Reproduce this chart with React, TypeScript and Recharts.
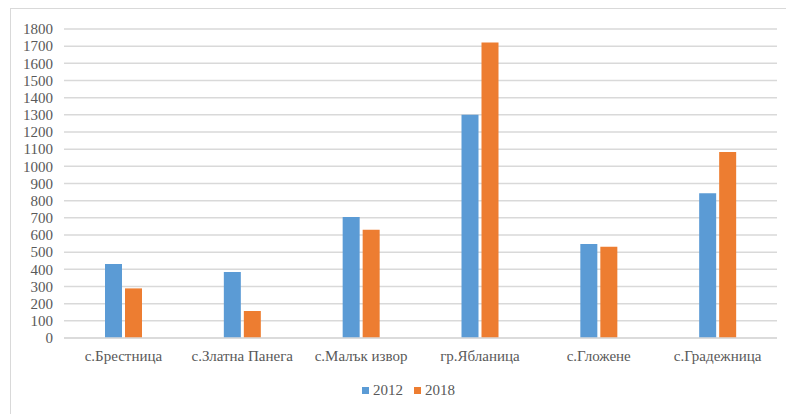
import React from "react";
import {
  BarChart,
  Bar,
  XAxis,
  YAxis,
  CartesianGrid,
  Legend,
} from "recharts";

const villages = [
  "с.Брестница",
  "с.Златна Панега",
  "с.Малък извор",
  "гр.Ябланица",
  "с.Гложене",
  "с.Градежница",
];
const values2012 = [431, 384, 705, 1300, 547, 843];
const values2018 = [289, 157, 630, 1722, 532, 1083];
const yTicks = [
  0, 100, 200, 300, 400, 500, 600, 700, 800, 900, 1000, 1100, 1200, 1300,
  1400, 1500, 1600, 1700, 1800,
];

const data = villages.map((name, i) => ({
  name,
  y2012: values2012[i],
  y2018: values2018[i],
}));

const FONT = "'Liberation Serif', 'Times New Roman', serif";
const TEXT = "#595959";
const tickStyle = { fill: TEXT, fontSize: 15, fontFamily: FONT };

// legend drawn as plain markup so the gaps between items can be set freely
const renderLegend = (props: any) => (
  <div
    style={{
      display: "flex",
      justifyContent: "center",
      gap: 11,
      paddingLeft: 40,
      paddingTop: 4,
      fontFamily: FONT,
      fontSize: 15,
      color: TEXT,
    }}
  >
    {props.payload.map((item: any) => (
      <span
        key={item.value}
        style={{ display: "flex", alignItems: "center", gap: 4 }}
      >
        <span
          style={{
            width: 7,
            height: 7,
            background: item.color,
            display: "inline-block",
          }}
        />
        {item.value}
      </span>
    ))}
  </div>
);

export default function App() {
  return (
    <div
      style={{
        position: "absolute",
        left: 0,
        top: 0,
        width: 786,
        height: 414,
        background: "#fff",
        overflow: "hidden",
        fontFamily: FONT,
      }}
    >
      <div
        style={{
          position: "absolute",
          left: 10,
          top: 8,
          width: 800,
          height: 420,
          border: "1px solid #d9d9d9",
        }}
      />
      <BarChart
        width={786}
        height={414}
        data={data}
        margin={{ top: 29, right: 9, left: 0, bottom: 0 }}
        barSize={17}
        barGap={3}
      >
        <CartesianGrid vertical={false} stroke="#d9d9d9" strokeWidth={1.5} />
        <XAxis
          dataKey="name"
          height={40}
          axisLine={{ stroke: "#d9d9d9", strokeWidth: 1.5 }}
          tickLine={false}
          tickMargin={6}
          tick={tickStyle}
          interval={0}
        />
        <YAxis
          width={64}
          domain={[0, 1800]}
          ticks={yTicks}
          interval={0}
          axisLine={false}
          tickLine={false}
          tickMargin={5}
          tick={tickStyle}
        />
        <Legend verticalAlign="bottom" height={36} content={renderLegend} />
        <Bar
          dataKey="y2012"
          name="2012"
          fill="#5B9BD5"
          isAnimationActive={false}
        />
        <Bar
          dataKey="y2018"
          name="2018"
          fill="#ED7D31"
          isAnimationActive={false}
        />
      </BarChart>
    </div>
  );
}
